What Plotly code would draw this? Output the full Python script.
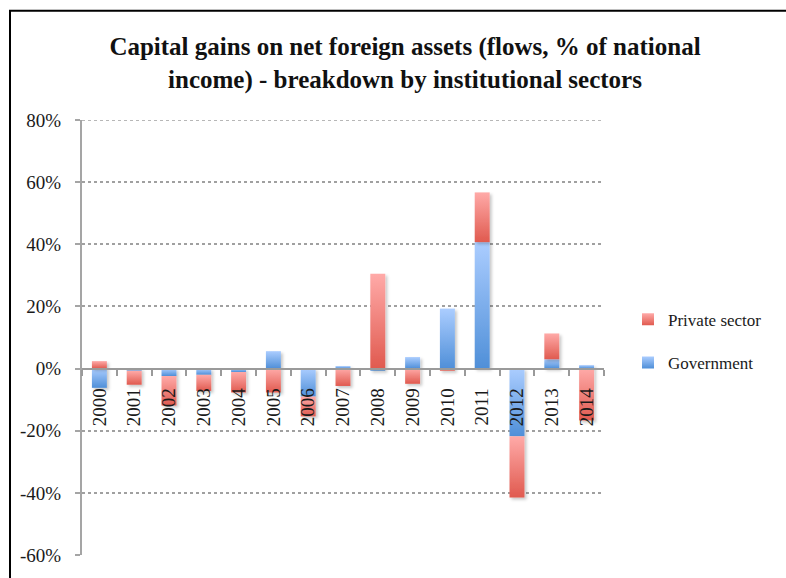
import plotly.graph_objects as go

# Capital gains on net foreign assets, % of national income
years = ["2000", "2001", "2002", "2003", "2004", "2005", "2006", "2007",
         "2008", "2009", "2010", "2011", "2012", "2013", "2014"]
government = [-6.2, -0.7, -2.4, -2.0, -1.1, 5.6, -9.0, 0.8,
              -0.7, 3.7, 19.3, 40.7, -21.8, 3.0, 1.1]
private_sector = [2.4, -4.5, -9.5, -5.2, -6.6, -7.7, -6.4, -5.6,
                  30.5, -4.9, -0.7, 16.0, -19.7, 8.3, -16.7]
y_ticks = [-60, -40, -20, 0, 20, 40, 60, 80]
y_tick_text = [f"{v}%" for v in y_ticks]

SERIF = "Liberation Serif, Times New Roman, serif"
RED = "rgb(240,128,122)"
BLUE = "rgb(122,172,234)"
GRID = "#a0a0a0"

fig = go.Figure()
fig.add_trace(go.Bar(
    x=years, y=government, name="Government", legendgroup="gov", legendrank=2,
    marker=dict(color=BLUE, line=dict(width=0)), width=0.43,
))
fig.add_trace(go.Bar(
    x=years, y=private_sector, name="Private sector", legendgroup="priv", legendrank=1,
    marker=dict(color=RED, line=dict(width=0)), width=0.43,
))

# plot area: x 82..604 px, y 120..558 px
L, R, T, B = 82, 604, 120, 558
W, H = 786, 578
pw, ph = R - L, B - T

def px_x(p):
    return (p - L) / pw

def px_y(p):
    return (B - p) / ph

fig.update_layout(
    width=W, height=H,
    margin=dict(l=L, r=W - R, t=T, b=H - B),
    paper_bgcolor="white", plot_bgcolor="white",
    barmode="relative", bargap=0.57,
    font=dict(family=SERIF, color="#1a1a1a"),
    title=dict(
        text="<b>Capital gains on net foreign assets (flows, % of national<br>"
             "income) - breakdown by institutional sectors</b>",
        x=405 / W, xanchor="center", y=1 - 55 / H, yanchor="middle",
        font=dict(family=SERIF, size=25, color="#111"),
    ),
    legend=dict(
        x=px_x(628), xanchor="left", y=px_y(303), yanchor="top",
        traceorder="grouped", tracegroupgap=18,
        font=dict(family=SERIF, size=17, color="#1a1a1a"),
        itemwidth=30, bgcolor="rgba(0,0,0,0)",
    ),
    xaxis=dict(
        type="category", anchor="free", position=60 / 140,
        showline=True, linecolor="#9a9a9a", linewidth=2,
        ticks="outside", tickson="boundaries", ticklen=6, tickwidth=2,
        tickcolor="#9a9a9a", tickangle=-90, ticklabelstandoff=11,
        tickfont=dict(family=SERIF, size=19, color="#1a1a1a"),
        showgrid=False, zeroline=False, range=[-0.5, 14.5],
    ),
    yaxis=dict(
        range=[-60, 80], tickvals=y_ticks, ticktext=y_tick_text,
        showline=True, linecolor="#a5a5a5", linewidth=2,
        ticks="outside", ticklen=5, tickwidth=2, tickcolor="#a5a5a5",
        ticklabelstandoff=10,
        tickfont=dict(family=SERIF, size=19, color="#1a1a1a"),
        showgrid=True, gridcolor=GRID, gridwidth=1.5, griddash="dot",
        zeroline=False,
    ),
    shapes=[
        # top gridline at the upper end of the value range
        dict(type="line", xref="paper", yref="y", layer="below",
             x0=0, x1=1, y0=y_ticks[-1], y1=y_ticks[-1],
             line=dict(color=GRID, width=1.5, dash="dot")),
        # chart frame
        dict(type="rect", xref="paper", yref="paper", layer="above",
             x0=px_x(10), x1=px_x(800), y0=px_y(640), y1=px_y(10),
             line=dict(color="black", width=2), fillcolor="rgba(0,0,0,0)"),
    ],
)

# Vertical gradient fills and a soft drop shadow for the bar segments
post_js = """
var gd = document.getElementById('{plot_id}');
var ns = 'http://www.w3.org/2000/svg';
var svg = gd.querySelector('svg.main-svg');
var defs = svg.querySelector('defs');
if (!defs) { defs = document.createElementNS(ns, 'defs'); svg.insertBefore(defs, svg.firstChild); }
function grad(id, top, bottom) {
  var g = document.createElementNS(ns, 'linearGradient');
  g.setAttribute('id', id);
  g.setAttribute('x1', '0'); g.setAttribute('y1', '0');
  g.setAttribute('x2', '0'); g.setAttribute('y2', '1');
  [[0, top], [1, bottom]].forEach(function (s) {
    var st = document.createElementNS(ns, 'stop');
    st.setAttribute('offset', s[0]);
    st.setAttribute('stop-color', s[1]);
    g.appendChild(st);
  });
  defs.appendChild(g);
}
grad('grad-red', '#ffaaa8', '#e05a4f');
grad('grad-blue', '#abcdff', '#4f8fd8');
var f = document.createElementNS(ns, 'filter');
f.setAttribute('id', 'bar-shadow');
f.setAttribute('filterUnits', 'userSpaceOnUse');
f.setAttribute('x', '-2000'); f.setAttribute('y', '-2000');
f.setAttribute('width', '6000'); f.setAttribute('height', '6000');
var ds = document.createElementNS(ns, 'feDropShadow');
ds.setAttribute('dx', '2'); ds.setAttribute('dy', '2');
ds.setAttribute('stdDeviation', '1.5');
ds.setAttribute('flood-color', '#000');
ds.setAttribute('flood-opacity', '0.22');
f.appendChild(ds);
defs.appendChild(f);
function paint(sel, shadow) {
  gd.querySelectorAll(sel).forEach(function (p) {
    var fill = p.style.fill.replace(/\\s/g, '');
    if (fill === 'rgb(240,128,122)') p.style.fill = 'url(#grad-red)';
    else if (fill === 'rgb(122,172,234)') p.style.fill = 'url(#grad-blue)';
    else return;
    if (shadow) p.setAttribute('filter', 'url(#bar-shadow)');
  });
}
paint('.barlayer .point path', true);
paint('.legendpoints path', false);
"""

fig.write_html("out.html", post_script=post_js)
